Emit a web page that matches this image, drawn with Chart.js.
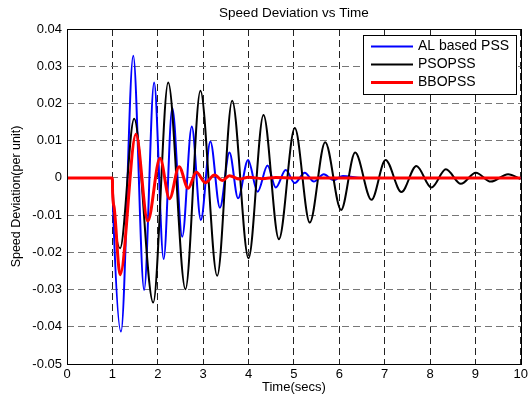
<!DOCTYPE html>
<html>
<head>
<meta charset="utf-8">
<script src="https://cdn.jsdelivr.net/npm/chart.js@4.4.1/dist/chart.umd.min.js"></script>
<style>
    body { margin: 0; background: #fff; }
</style>
</head>
<body>
<canvas id="myChart" width="531" height="398"></canvas>
<script>

// values (peaks / troughs of each response)
var alTime = [0, 1.0, 1.02, 1.19, 1.46, 1.70, 1.92, 2.13, 2.32, 2.54, 2.75, 2.95, 3.16, 3.37, 3.58, 3.77, 3.99, 4.20, 4.42, 4.60, 4.82, 5.02, 5.24, 5.44, 5.66, 5.87, 6.08, 6.5, 10];
var alValues = [0, 0, -0.010, -0.0413, 0.0328, -0.0301, 0.0256, -0.0218, 0.0188, -0.0158, 0.0138, -0.0113, 0.0098, -0.0080, 0.0068, -0.0055, 0.0048, -0.0037, 0.0033, -0.0026, 0.0021, -0.0014, 0.0014, -0.0010, 0.0010, -0.0006, 0.0005, 0, 0];

var psoTime = [0, 1.0, 1.02, 1.17, 1.48, 1.90, 2.23, 2.61, 2.94, 3.31, 3.64, 4.00, 4.33, 4.67, 5.02, 5.35, 5.69, 6.04, 6.35, 6.71, 7.02, 7.37, 7.70, 8.03, 8.35, 8.68, 9.01, 9.34, 9.72, 10];
var psoValues = [0, 0, -0.006, -0.0189, 0.0159, -0.0335, 0.0256, -0.0299, 0.0234, -0.0263, 0.0207, -0.0216, 0.0169, -0.0165, 0.0134, -0.0120, 0.0096, -0.0086, 0.0068, -0.0059, 0.0048, -0.0038, 0.0032, -0.0026, 0.0023, -0.0016, 0.0014, -0.0010, 0.0010, -0.0003];

var bboTime = [0, 1.0, 1.005, 1.04, 1.17, 1.52, 1.78, 2.05, 2.26, 2.47, 2.67, 2.85, 3.05, 3.25, 3.43, 3.58, 3.8, 4.0, 4.3, 4.6, 5.0, 10];
var bboValues = [0, 0, -0.004, -0.008, -0.026, 0.0117, -0.0116, 0.0053, -0.0056, 0.0030, -0.0028, 0.0015, -0.0013, 0.0008, -0.0007, 0.0006, -0.0003, 0.0002, -0.0002, 0.0001, 0, 0];

var seriesNames = ['AL based PSS', 'PSOPSS', 'BBOPSS'];
var xRange = [0, 10];
var yRange = [-0.05, 0.04];

var fontFamily = '"Liberation Sans", Arial, Helvetica, sans-serif';

function toPoints(xs, ys) {
    return xs.map(function (x, i) { return {x: x, y: ys[i]}; });
}

// matlab style box round the axes
var boxPlugin = {
    id: 'axesBox',
    afterDatasetsDraw: function (chart) {
        var a = chart.chartArea, ctx = chart.ctx;
        ctx.save();
        ctx.strokeStyle = '#000';
        ctx.lineWidth = 1;
        ctx.setLineDash([]);
        ctx.strokeRect(Math.round(a.left) + 0.5, Math.round(a.top) + 0.5,
            Math.round(a.right - a.left), Math.round(a.bottom - a.top));
        ctx.restore();
    }
};

// legend box inside the top right corner
var legendPlugin = {
    id: 'insideLegend',
    afterDraw: function (chart) {
        var a = chart.chartArea, ctx = chart.ctx;
        var w = 153, h = 59;
        var x = Math.round(a.right) - 5 - w, y = Math.round(a.top) + 6;
        ctx.save();
        ctx.fillStyle = '#fff';
        ctx.fillRect(x, y, w, h);
        ctx.strokeStyle = '#000';
        ctx.lineWidth = 1;
        ctx.strokeRect(x + 0.5, y + 0.5, w, h);
        ctx.font = '14px ' + fontFamily;
        ctx.textBaseline = 'middle';
        chart.data.datasets.forEach(function (ds, i) {
            var ly = y + 11.5 + i * 18;
            ctx.strokeStyle = ds.borderColor;
            ctx.lineWidth = ds.borderWidth;
            ctx.beginPath();
            ctx.moveTo(x + 8, ly);
            ctx.lineTo(x + 50, ly);
            ctx.stroke();
            ctx.fillStyle = '#000';
            ctx.fillText(ds.label, x + 55, ly);
        });
        ctx.restore();
    }
};

var context = document.getElementById('myChart').getContext('2d');

new Chart(context, {
    type: 'line',
    data: {
        datasets: [
            {
                label: seriesNames[0],
                data: toPoints(alTime, alValues),
                borderColor: '#0000ff',
                borderWidth: 2,
                order: 3
            },
            {
                label: seriesNames[1],
                data: toPoints(psoTime, psoValues),
                borderColor: '#000000',
                borderWidth: 2,
                order: 2
            },
            {
                label: seriesNames[2],
                data: toPoints(bboTime, bboValues),
                borderColor: '#ff0000',
                borderWidth: 3,
                order: 1
            }
        ]
    },
    options: {
        responsive: false,
        animation: false,
        parsing: false,
        elements: {
            point: {radius: 0},
            line: {cubicInterpolationMode: 'monotone', fill: false}
        },
        layout: {padding: 0},
        plugins: {
            legend: {display: false},
            tooltip: {enabled: false},
            title: {display: false}
        },
        scales: {
            // top axis only carries the title, centred over the axes like matlab does
            top: {
                type: 'linear',
                position: 'top',
                min: xRange[0],
                max: xRange[1],
                afterFit: function (scale) { scale.height = 29; },
                ticks: {display: false},
                grid: {display: false},
                border: {display: false},
                title: {
                    display: true,
                    text: 'Speed Deviation vs Time',
                    color: '#000',
                    font: {family: fontFamily, size: 13.5},
                    padding: {top: 5, bottom: 0}
                }
            },
            x: {
                type: 'linear',
                min: xRange[0],
                max: xRange[1],
                afterFit: function (scale) { scale.height = 34; },
                ticks: {stepSize: 1, color: '#000', padding: 3, font: {family: fontFamily, size: 13}},
                grid: {color: '#222', lineWidth: 1, drawTicks: false},
                border: {display: false, dash: [7, 4]},
                title: {
                    display: true,
                    text: 'Time(secs)',
                    color: '#000',
                    font: {family: fontFamily, size: 13},
                    padding: {top: 0, bottom: 3}
                }
            },
            y: {
                type: 'linear',
                min: yRange[0],
                max: yRange[1],
                afterFit: function (scale) { scale.width = 67; },
                ticks: {
                    stepSize: 0.01,
                    color: '#000',
                    padding: 5,
                    font: {family: fontFamily, size: 13},
                    callback: function (v) { return Math.abs(v) < 1e-9 ? '0' : v.toFixed(2); }
                },
                grid: {color: '#777', lineWidth: 1, drawTicks: false},
                border: {display: false, dash: [7, 4]},
                title: {
                    display: true,
                    text: 'Speed Deviation(per unit)',
                    color: '#000',
                    font: {family: fontFamily, size: 12.5},
                    padding: {top: 9, bottom: 0}
                }
            }
        }
    },
    plugins: [boxPlugin, legendPlugin]
});
</script>
</body>
</html>
